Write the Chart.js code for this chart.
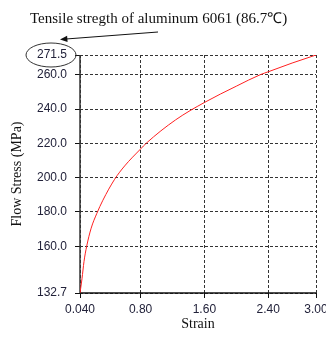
<!DOCTYPE html>
<html>
<head>
<meta charset="utf-8">
<script src="https://cdn.jsdelivr.net/npm/chart.js@4/dist/chart.umd.min.js"></script>
<style>
html,body{margin:0;padding:0;background:#fff;}
#wrap{position:relative;width:326px;height:338px;}
</style>
</head>
<body>
<div id="wrap"><canvas id="c" width="326" height="338"></canvas></div>
<script>
// Data
const strain = [0.04, 0.065, 0.09, 0.124, 0.18, 0.25, 0.327, 0.474, 0.6, 0.8, 0.87, 1.24, 1.6, 2.0, 2.3, 2.4, 2.7, 3.0];
const stress = [132.7, 141, 151, 160, 170.5, 179, 186.8, 199, 206.8, 216.7, 220, 233.7, 243.8, 253.3, 260, 261.7, 266.8, 271.5];
const xTicks = [0.04, 0.8, 1.6, 2.4, 3.0];
const xTickLabels = ['0.040', '0.80', '1.60', '2.40', '3.00'];
const yTicks = [132.7, 160, 180, 200, 220, 240, 260, 271.5];
const yTickLabels = ['132.7', '160.0', '180.0', '200.0', '220.0', '240.0', '260.0', '271.5'];
const annotationText = 'Tensile stregth of aluminum 6061 (86.7\u2103)';

const points = strain.map((s, i) => ({x: s, y: stress[i]}));

const axisLines = {
  id: 'axisLines',
  beforeDatasetsDraw(chart) {
    const {ctx, chartArea: a} = chart;
    ctx.save();
    ctx.setLineDash([]);
    ctx.lineWidth = 1.5;
    ctx.strokeStyle = '#333';
    ctx.beginPath();
    ctx.moveTo(a.left, a.top);
    ctx.lineTo(a.left, a.bottom);
    ctx.stroke();
    ctx.strokeStyle = '#111';
    ctx.beginPath();
    ctx.moveTo(a.left, a.bottom);
    ctx.lineTo(a.right, a.bottom);
    ctx.stroke();
    ctx.restore();
  }
};

const annotate = {
  id: 'annotate',
  afterDraw(chart) {
    const ctx = chart.ctx;
    ctx.save();
    ctx.fillStyle = '#111';
    ctx.font = '15px "Liberation Serif", "Times New Roman", serif';
    ctx.textBaseline = 'alphabetic';
    ctx.textAlign = 'left';
    ctx.fillText(annotationText, 30, 23);
    // ellipse around top y label
    const yS = chart.scales.y;
    const cy = yS.getPixelForValue(271.5);
    ctx.strokeStyle = '#333';
    ctx.lineWidth = 1;
    ctx.beginPath();
    ctx.ellipse(51, cy, 25, 12, 0, 0, Math.PI * 2);
    ctx.stroke();
    // arrow
    const x0 = 158, y0 = 32, x1 = 60, y1 = 39.5;
    ctx.strokeStyle = '#111';
    ctx.beginPath();
    ctx.moveTo(x0, y0);
    ctx.lineTo(x1 + 6, y1 - 0.5);
    ctx.stroke();
    const ang = Math.atan2(y1 - y0, x1 - x0);
    ctx.fillStyle = '#111';
    ctx.beginPath();
    ctx.moveTo(x1, y1);
    ctx.lineTo(x1 - 8 * Math.cos(ang - 0.4), y1 - 8 * Math.sin(ang - 0.4));
    ctx.lineTo(x1 - 8 * Math.cos(ang + 0.4), y1 - 8 * Math.sin(ang + 0.4));
    ctx.closePath();
    ctx.fill();
    ctx.restore();
  }
};

const tickFont = {family: '"Liberation Sans", Arial, sans-serif', size: 12};
const titleFont = {family: '"Liberation Serif", "Times New Roman", serif', size: 14};

new Chart(document.getElementById('c'), {
  type: 'line',
  data: {
    datasets: [{
      data: points,
      borderColor: '#ff2020',
      borderWidth: 1,
      pointRadius: 0,
      fill: false,
      cubicInterpolationMode: 'monotone'
    }]
  },
  options: {
    responsive: false,
    animation: false,
    events: [],
    layout: {padding: {top: 55, right: 10, left: 0, bottom: 0}},
    plugins: {legend: {display: false}, tooltip: {enabled: false}},
    scales: {
      x: {
        type: 'linear',
        min: 0.04,
        max: 3.0,
        afterBuildTicks(s) { s.ticks = xTicks.map(v => ({value: v})); },
        afterFit(s) { s.height = 45; s.paddingLeft = 0; s.paddingRight = 0; },
        ticks: {
          font: tickFont,
          color: '#22223a',
          padding: 4,
          maxRotation: 0,
          autoSkip: false,
          callback(v) { const i = xTicks.indexOf(v); return i >= 0 ? xTickLabels[i] : ''; }
        },
        grid: {
          color: '#333',
          lineWidth: 1,
          tickBorderDash: [],
          tickLength: 5,
          tickColor: '#111',
          drawTicks: true
        },
        border: {display: false, dash: [3, 2]},
        title: {display: true, text: 'Strain', font: titleFont, color: '#111', padding: {top: 0, bottom: 5}}
      },
      y: {
        type: 'linear',
        min: 132.7,
        max: 271.5,
        afterBuildTicks(s) { s.ticks = yTicks.map(v => ({value: v})); },
        afterFit(s) { s.width = 80; s.paddingTop = 0; s.paddingBottom = 0; },
        ticks: {
          font: tickFont,
          color: '#22223a',
          padding: 8,
          autoSkip: false,
          callback(v) { const i = yTicks.indexOf(v); return i >= 0 ? yTickLabels[i] : ''; }
        },
        grid: {
          color: '#333',
          lineWidth: 1,
          tickBorderDash: [],
          tickLength: 5,
          tickColor: '#111',
          drawTicks: true
        },
        border: {display: false, dash: [3, 2]},
        title: {display: true, text: 'Flow Stress (MPa)', font: titleFont, color: '#111', padding: {top: 9, bottom: 0}}
      }
    }
  },
  plugins: [axisLines, annotate]
});
</script>
</body>
</html>
